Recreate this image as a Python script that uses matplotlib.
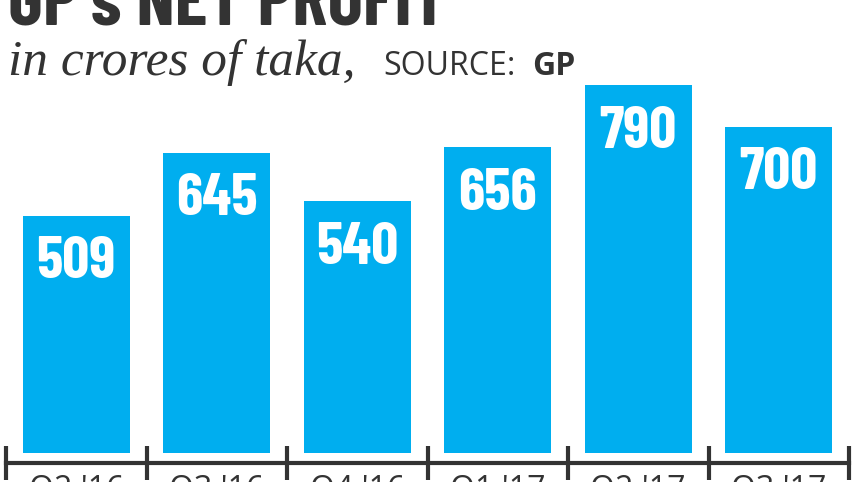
import matplotlib
matplotlib.use("Agg")
import matplotlib.pyplot as plt
import numpy as np

#--------------------------------------------------------------------#
# Data: GP's net profit, in crores of taka
quarters = ["Q2 '16", "Q3 '16", "Q4 '16", "Q1 '17", "Q2 '17", "Q3 '17"]
profit = [509, 645, 540, 656, 790, 700]

BLUE = "#00AEEF"
DARK = "#333333"
COND = "Barlow Condensed"
W, H = 857, 482

#--------------------------------------------------------------------#

fig = plt.figure(figsize=(W / 100, H / 100), dpi=100)
ax = fig.add_axes([6 / W, 29 / H, 843 / W, 453 / H])

x = np.arange(len(quarters))
bars = ax.bar(x, profit, width=0.76, color=BLUE)

ax.set_xlim(-0.5, len(quarters) - 0.5)
ax.set_ylim(0, 972.5)

# value labels inside the bars
for b, v in zip(bars, profit):
    ax.annotate(str(v), (b.get_x() + b.get_width() / 2, v),
                xytext=(0, -47), textcoords="offset pixels",
                ha="center", va="center", color="white",
                family=COND, weight="bold", fontsize=43)

# axis line with separator ticks
for s in ["top", "right", "left"]:
    ax.spines[s].set_visible(False)
ax.spines["bottom"].set_position(("outward", 7))
ax.spines["bottom"].set_linewidth(3)
ax.spines["bottom"].set_color(DARK)
ax.set_yticks([])
ax.set_xticks(np.arange(-0.5, len(quarters)), labels=[""] * (len(quarters) + 1))
ax.tick_params(axis="x", which="major", direction="inout", length=25,
               width=3, color=DARK)
ax.set_xticks(x, labels=quarters, minor=True)
ax.tick_params(axis="x", which="minor", length=0, pad=8, labelsize=23,
               labelcolor=DARK)
for t in ax.get_xticklabels(minor=True):
    t.set_family("Open Sans")

# title (cut off at the top as in the source) and subtitle
fig.text(8 / W, 1 - 25 / H, "GP's NET PROFIT", family=COND,
         weight="bold", fontsize=54, color=DARK, va="baseline")
fig.text(8 / W, 1 - 75 / H, "in crores of taka,", family="Liberation Serif",
         style="italic", fontsize=37, color=DARK, va="baseline")
fig.text(383 / W, 1 - 75 / H, "SOURCE:", family="Open Sans",
         fontsize=23, color=DARK, va="baseline")
fig.text(532 / W, 1 - 75 / H, "GP", family="Open Sans", weight="bold",
         fontsize=23, color=DARK, va="baseline")

fig.savefig("out.png", dpi=100)
